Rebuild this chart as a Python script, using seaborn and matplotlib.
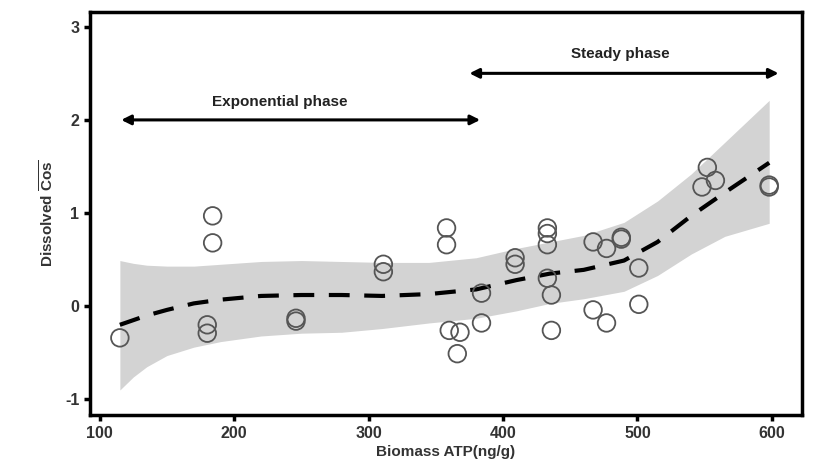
# Dissolved Cos vs biomass ATP with smooth fit and CI band

import pandas as pd
import matplotlib.pyplot as plt
import seaborn as sns

atp = [115, 184, 184, 180, 180, 246, 246, 311, 311, 358, 358, 360, 368, 366,
       384, 384, 409, 409, 433, 433, 433, 433, 436, 436, 467, 477, 488, 488,
       501, 467, 477, 501, 552, 548, 558, 598, 598]
cos = [-0.34, 0.97, 0.68, -0.20, -0.29, -0.13, -0.16, 0.45, 0.37, 0.84, 0.66,
       -0.26, -0.28, -0.51, 0.14, -0.18, 0.52, 0.45, 0.84, 0.78, 0.66, 0.30,
       0.12, -0.26, 0.69, 0.62, 0.72, 0.74, 0.41, -0.04, -0.18, 0.02, 1.49,
       1.28, 1.35, 1.28, 1.30]

# smooth fit and confidence band
fit_x = [115, 125, 135, 150, 170, 190, 220, 250, 280, 310, 345, 380, 410,
         435, 460, 490, 515, 540, 565, 598]
fit_y = [-0.20, -0.15, -0.10, -0.04, 0.03, 0.07, 0.11, 0.12, 0.12, 0.11,
         0.13, 0.18, 0.28, 0.35, 0.39, 0.49, 0.69, 0.97, 1.22, 1.54]
fit_lo = [-0.90, -0.76, -0.65, -0.53, -0.44, -0.38, -0.32, -0.29, -0.28,
          -0.24, -0.18, -0.13, -0.05, 0.03, 0.08, 0.16, 0.33, 0.56, 0.75, 0.89]
fit_hi = [0.49, 0.46, 0.44, 0.43, 0.43, 0.45, 0.48, 0.49, 0.48, 0.47, 0.47,
          0.52, 0.62, 0.69, 0.76, 0.90, 1.13, 1.42, 1.76, 2.21]

pts = pd.DataFrame({"atp": atp, "cos": cos})
fit = pd.DataFrame({"x": fit_x, "y": fit_y, "lo": fit_lo, "hi": fit_hi})

sns.set_style("white")
plt.rcParams["font.family"] = ["Liberation Sans", "DejaVu Sans"]
plt.rcParams["mathtext.fontset"] = "custom"
plt.rcParams["mathtext.bf"] = "Liberation Sans:bold"
plt.rcParams["mathtext.rm"] = "Liberation Sans"
plt.rcParams["axes.unicode_minus"] = False

fig = plt.figure(figsize=(8.16, 4.75), dpi=100)
ax = fig.add_axes([0.110, 0.126, 0.873, 0.849])

ax.fill_between(fit["x"], fit["lo"], fit["hi"], color="#d3d3d3", lw=0, zorder=1)
sns.lineplot(data=fit, x="x", y="y", ax=ax, color="black", lw=3,
             linestyle=(0, (5, 3.5)), zorder=2)
sns.scatterplot(data=pts, x="atp", y="cos", ax=ax, s=160, facecolor="none",
                edgecolor="#555555", linewidth=1.3, zorder=3)

# phase arrows
arrow = dict(arrowstyle="<|-|>", color="black", lw=2.2, mutation_scale=14,
             shrinkA=0, shrinkB=0)
ax.annotate("", xy=(116, 2.0), xytext=(383, 2.0), arrowprops=arrow)
ax.annotate("", xy=(375, 2.5), xytext=(605, 2.5), arrowprops=arrow)
ax.text(234, 2.12, "Exponential phase", ha="center", va="bottom",
        fontsize=11, fontweight="bold", color="#222222")
ax.text(487, 2.63, "Steady phase", ha="center", va="bottom",
        fontsize=11, fontweight="bold", color="#222222")

ax.set_xlim(92.6, 622.5)
ax.set_ylim(-1.17, 3.16)
ax.set_xticks([100, 200, 300, 400, 500, 600])
ax.set_yticks([-1, 0, 1, 2, 3])
ax.set_xlabel("Biomass ATP(ng/g)", fontsize=11, fontweight="bold",
              color="#333333", labelpad=3)
ax.set_ylabel(r"Dissolved $\overline{\mathbf{Cos}}$", fontsize=11,
              fontweight="bold", color="#333333", labelpad=6)

for s in ax.spines.values():
    s.set_linewidth(2.5)
    s.set_color("black")
ax.tick_params(direction="out", length=4, width=2.5, labelsize=11.5,
               colors="black", labelcolor="#333333", bottom=True, left=True)
for lab in ax.get_xticklabels() + ax.get_yticklabels():
    lab.set_fontweight("bold")

fig.savefig("out.png", dpi=100)
